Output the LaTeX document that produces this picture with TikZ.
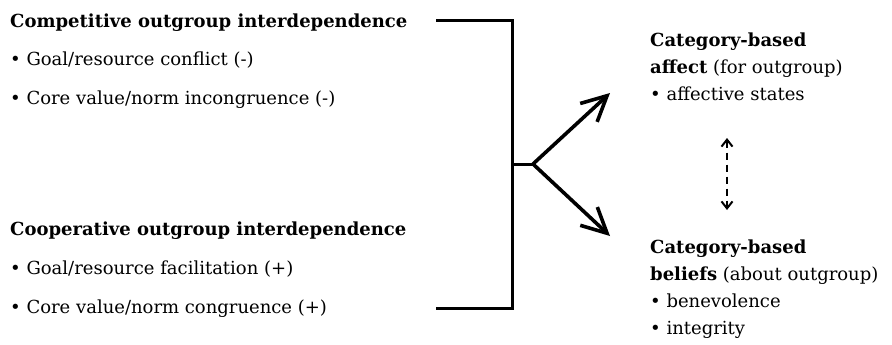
\documentclass[tikz,border=0pt]{standalone}
\usepackage{fontspec}
\setmainfont{DejaVu Serif}
\usepackage{tikz}
\usetikzlibrary{arrows.meta,positioning}

\begin{document}
\begin{tikzpicture}[
  x=1bp, y=-1bp,
  font=\fontsize{18bp}{21bp}\selectfont,
  txt/.style={anchor=base west, inner sep=0pt},
  head/.style={txt, font=\fontsize{18bp}{21bp}\selectfont\bfseries},
  brk/.style={line width=3bp},
  arr/.style={line width=3.6bp, -{Straight Barb[length=25bp, width=25bp]}},
  link/.style={line width=2bp, dash pattern=on 7bp off 5bp,
    {Straight Barb[length=7bp, width=11bp]}-{Straight Barb[length=7bp, width=11bp]}}
]
\useasboundingbox (0,0) rectangle (892,344);

% left: the two kinds of interdependence
\node[head] (comp) at (10,27) {Competitive outgroup interdependence};
\node[txt, below=38bp of comp.base west, anchor=base west] (conf) {• Goal/resource conflict (-)};
\node[txt, below=39bp of conf.base west, anchor=base west] (incg) {• Core value/norm incongruence (-)};
\node[head] (coop) at (10,235) {Cooperative outgroup interdependence};
\node[txt, below=39bp of coop.base west, anchor=base west] (faci) {• Goal/resource facilitation (+)};
\node[txt, below=39bp of faci.base west, anchor=base west] (cong) {• Core value/norm congruence (+)};

% right: affect and beliefs
\node[head] (cat1) at (650,46) {Category-based};
\node[txt, below=27bp of cat1.base west, anchor=base west] (aff) {\textbf{affect} (for outgroup)};
\node[txt, below=27bp of aff.base west, anchor=base west] (stat) {• affective states};
\node[head] (cat2) at (650,253) {Category-based};
\node[txt, below=27bp of cat2.base west, anchor=base west] (bel) {\textbf{beliefs} (about outgroup)};
\node[txt, below=27bp of bel.base west, anchor=base west] (bene) {• benevolence};
\node[txt, below=27bp of bene.base west, anchor=base west] (intg) {• integrity};

% bracket and fork
\coordinate (btop) at (436,20);
\coordinate (bbot) at (436,308);
\coordinate (fork) at (533,164);
\coordinate (tipa) at (610,93);
\coordinate (tipb) at (610,236);
\draw[brk] (btop) -| (fork -| 512,0) coordinate (mid) |- (bbot);
\draw[brk] (mid) -- (fork);
\draw[arr] (fork) -- (tipa);
\draw[arr] (fork) -- (tipb);

% affect <-> beliefs
\coordinate (up) at (727,138);
\coordinate (dn) at (727,210);
\draw[link] (up) -- (dn);
\end{tikzpicture}
\end{document}
